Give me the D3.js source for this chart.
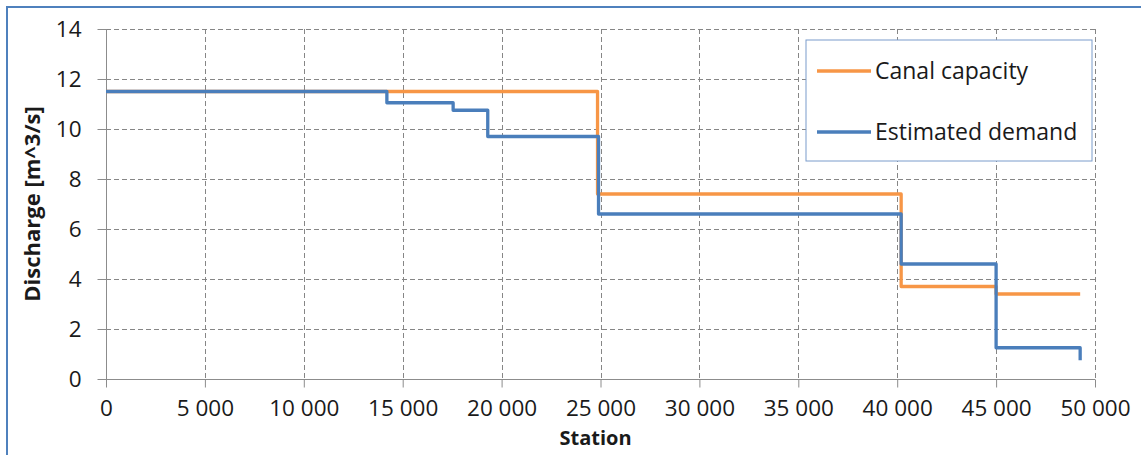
<!DOCTYPE html>
<html>
<head>
<meta charset="utf-8">
<script src="https://cdn.jsdelivr.net/npm/d3@7"></script>
<style>
  html, body { margin: 0; padding: 0; background: #fff; }
  svg { display: block; }
  text { font-family: "Open Sans", "Liberation Sans", sans-serif; fill: #1a1a1a; }
</style>
</head>
<body>
<svg id="chart" width="1141" height="455"></svg>
<script>
// ---- data ----
const capacityStations = [0, 24850, 40200, 45000, 49250];
const capacityValues   = [11.5, 7.4, 3.7, 3.4, 3.4];
const demandStations   = [0, 14200, 17550, 19300, 24900, 40200, 45000, 49250];
const demandValues     = [11.5, 11.05, 10.75, 9.7, 6.6, 4.6, 1.25, 0.75];
const xTicks = [0, 5000, 10000, 15000, 20000, 25000, 30000, 35000, 40000, 45000, 50000];
const yTicks = [0, 2, 4, 6, 8, 10, 12, 14];
const seriesNames = ["Canal capacity", "Estimated demand"];
const seriesColors = ["#F79646", "#4A7EBB"];

(function () {
// ---- layout ----
const svg = d3.select("#chart");
const pL = 106, pR = 1095, pT = 29, pB = 379;

const x = d3.scaleLinear().domain([0, 50000]).range([pL, pR]);
const y = d3.scaleLinear().domain([0, 14]).range([pB, pT]);

// outer frame
svg.append("rect")
  .attr("x", 7).attr("y", 7).attr("width", 1300).attr("height", 1300)
  .attr("fill", "none").attr("stroke", "#4F81BD").attr("stroke-width", 2);

const gridColor = "#868686";

// horizontal grid
svg.append("g").selectAll("line").data(yTicks.filter(d => d > 0)).join("line")
  .attr("x1", pL).attr("x2", pR)
  .attr("y1", d => Math.round(y(d)) + 0.5).attr("y2", d => Math.round(y(d)) + 0.5)
  .attr("stroke", gridColor).attr("stroke-width", 1).attr("stroke-dasharray", "5,3");

// vertical grid
svg.append("g").selectAll("line").data(xTicks.filter(d => d > 0)).join("line")
  .attr("x1", d => Math.round(x(d)) + 0.5).attr("x2", d => Math.round(x(d)) + 0.5)
  .attr("y1", pT).attr("y2", pB)
  .attr("stroke", gridColor).attr("stroke-width", 1).attr("stroke-dasharray", "5,3");

// x axis
const fmt = d3.format(",");
const xAxis = d3.axisBottom(x).tickValues(xTicks).tickSize(8).tickPadding(13)
  .tickFormat(d => fmt(d).replace(",", " "));
const gx = svg.append("g").attr("transform", `translate(0,${Math.round(y(0)) + 0.5})`).call(xAxis);
gx.select(".domain").attr("stroke", "#8c8c8c").attr("d", `M${pL},0H${pR}`);
gx.selectAll(".tick line").attr("stroke", "#8c8c8c");
gx.selectAll(".tick text").attr("font-size", 22.5).attr("fill", "#1a1a1a")
  .style("font-family", "'Open Sans', sans-serif");

// y axis
const yAxis = d3.axisLeft(y).tickValues(yTicks).tickSize(9).tickPadding(16);
const gy = svg.append("g").attr("transform", `translate(${Math.round(x(0)) + 0.5},0)`).call(yAxis);
gy.select(".domain").attr("stroke", "#8c8c8c").attr("d", `M0,${pT}V${pB}`);
gy.selectAll(".tick line").attr("stroke", "#8c8c8c");
gy.selectAll(".tick text").attr("font-size", 22.5).attr("fill", "#1a1a1a")
  .style("font-family", "'Open Sans', sans-serif");

// series
const line = d3.line().x(d => x(d[0])).y(d => y(d[1])).curve(d3.curveStepAfter);
const capPts = capacityStations.map((s, i) => [s, capacityValues[i]]);
const demPts = demandStations.map((s, i) => [s, demandValues[i]]);
[capPts, demPts].forEach((pts, i) => {
  svg.append("path").datum(pts).attr("d", line)
    .attr("fill", "none").attr("stroke", seriesColors[i]).attr("stroke-width", 3.3)
    .attr("stroke-linejoin", "round");
});

// axis titles
svg.append("text").attr("x", (pL + pR) / 2 - 5).attr("y", 445)
  .attr("text-anchor", "middle").attr("font-size", 20).attr("font-weight", "bold")
  .text("Station");
svg.append("text")
  .attr("transform", `translate(40,${(pT + pB) / 2}) rotate(-90)`)
  .attr("text-anchor", "middle").attr("font-size", 22).attr("font-weight", "bold")
  .text("Discharge [m^3/s]");

// legend
const lg = svg.append("g");
lg.append("rect").attr("x", 806).attr("y", 40).attr("width", 286).attr("height", 121)
  .attr("fill", "#fff").attr("stroke", "#7A9CCB").attr("stroke-width", 1);
seriesNames.forEach((name, i) => {
  const ly = 71 + i * 61;
  lg.append("line").attr("x1", 817).attr("x2", 871).attr("y1", ly).attr("y2", ly)
    .attr("stroke", seriesColors[i]).attr("stroke-width", 3.3);
  lg.append("text").attr("x", 875).attr("y", ly).attr("dy", "0.35em")
    .attr("font-size", 23).text(name);
});
})();
</script>
</body>
</html>
